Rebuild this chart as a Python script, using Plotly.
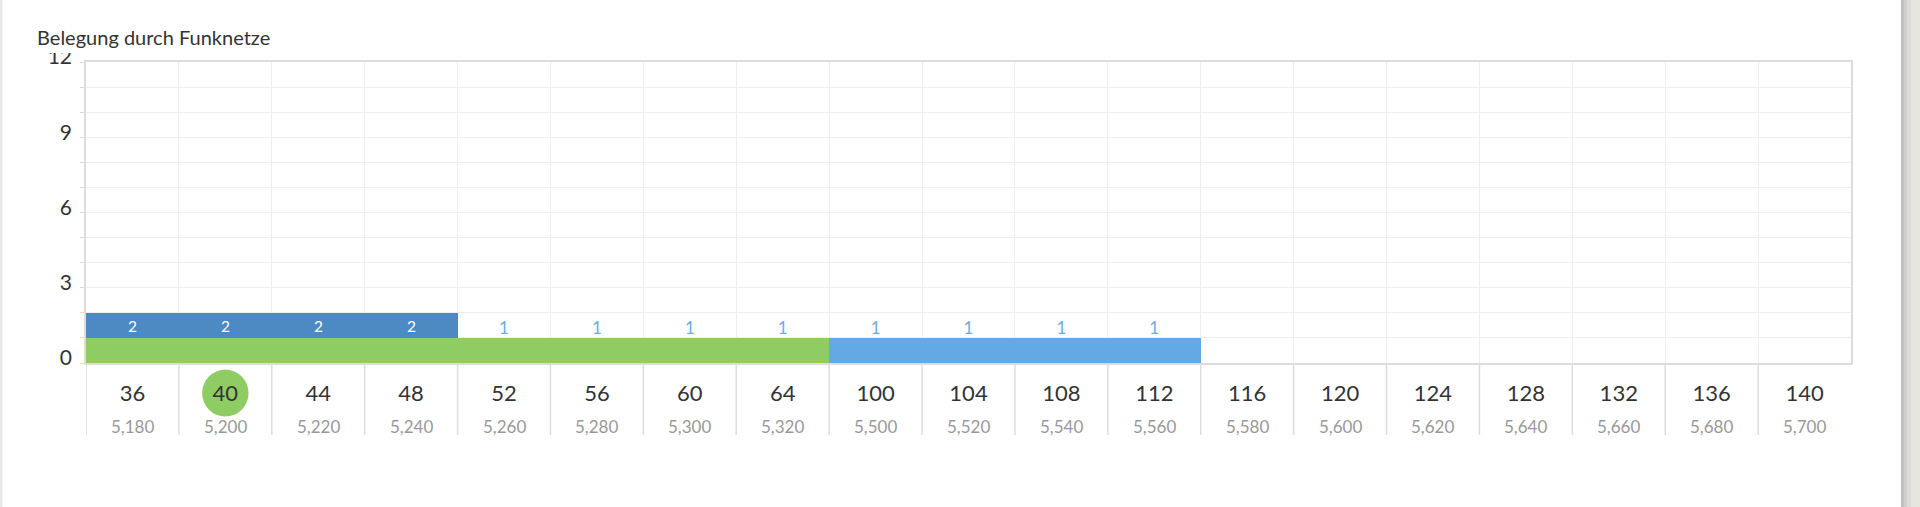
import plotly.graph_objects as go

# channels and their centre frequencies (MHz)
channels = ["36", "40", "44", "48", "52", "56", "60", "64", "100", "104",
            "108", "112", "116", "120", "124", "128", "132", "136", "140"]
frequencies = ["5,180", "5,200", "5,220", "5,240", "5,260", "5,280", "5,300",
               "5,320", "5,500", "5,520", "5,540", "5,560", "5,580", "5,600",
               "5,620", "5,640", "5,660", "5,680", "5,700"]

# networks per channel
net_green = [1, 1, 1, 1, 1, 1, 1, 1, None, None, None, None,
             None, None, None, None, None, None, None]
net_lightblue = [None, None, None, None, None, None, None, None, 1, 1, 1, 1,
                 None, None, None, None, None, None, None]
net_darkblue = [1, 1, 1, 1, None, None, None, None, None, None, None, None,
                None, None, None, None, None, None, None]

current_channel = "40"

y_ticks = list(range(13))
y_labels = ["0", "", "", "3", "", "", "6", "", "", "9", "", "", "12"]

FONT = "Lato"
GREEN = "#8fcc63"
LIGHTBLUE = "#63a9e3"
DARKBLUE = "#4d89c3"

totals = [sum(v or 0 for v in vals) for vals in zip(net_green, net_lightblue, net_darkblue)]
top_labels = [(c, t) for c, t, d in zip(channels, totals, net_darkblue) if t and not d]

fig = go.Figure()
fig.add_trace(go.Bar(x=channels, y=net_green, marker=dict(color=GREEN, line_width=0)))
fig.add_trace(go.Bar(x=channels, y=net_lightblue, marker=dict(color=LIGHTBLUE, line_width=0)))
fig.add_trace(go.Bar(
    x=channels, y=net_darkblue,
    marker=dict(color=DARKBLUE, line_width=0),
    text=[str(t) if d else None for t, d in zip(totals, net_darkblue)],
    textposition="inside", insidetextanchor="middle", textangle=0,
    textfont=dict(family=FONT, size=18, color="white"),
))
fig.add_trace(go.Scatter(
    x=[c for c, t in top_labels], y=[t for c, t in top_labels],
    text=[str(t) for c, t in top_labels],
    mode="text", textposition="top center",
    textfont=dict(family=FONT, size=17, color="#6aaee8"),
    cliponaxis=False,
))

shapes = []
# separators below the axis
for i in range(len(channels)):
    shapes.append(dict(type="line", xref="x", yref="paper", x0=i - 0.5, x1=i - 0.5,
                       y0=0, y1=-0.239, line=dict(color="#dddddd", width=1.5)))
# highlight of the current channel
ci = channels.index(current_channel)
shapes.append(dict(type="circle", xref="x", yref="paper", layer="below",
                   x0=ci - 0.25, x1=ci + 0.25, y0=-0.178, y1=-0.022,
                   fillcolor=GREEN, line_width=0))
# the title box clips the top of the "12"
shapes.append(dict(type="rect", xref="paper", yref="paper", layer="above",
                   x0=-0.045, x1=-0.004, y0=1.030, y1=1.08,
                   fillcolor="white", line_width=0))
# page edges (scrollbar shadow on the right, border on the left)
edge = [(1.0283, 1.0300, "#bfbfbb"), (1.0300, 1.0317, "#cfceca"),
        (1.0317, 1.0340, "#dcdad6"), (1.0340, 1.06, "#e7e5e0")]
for x0, x1, col in edge:
    shapes.append(dict(type="rect", xref="paper", yref="paper", layer="above",
                       x0=x0, x1=x1, y0=-0.6, y1=1.3, fillcolor=col, line_width=0))
shapes.append(dict(type="rect", xref="paper", yref="paper", layer="above",
                   x0=-0.06, x1=-0.0474, y0=-0.6, y1=1.3,
                   fillcolor="#e6e6e6", line_width=0))

# frequency row under the channel numbers (x = category index)
annotations = [dict(x=i, y=-0.2126, xref="x", yref="paper", text=f,
                    showarrow=False, yanchor="middle",
                    font=dict(family=FONT, size=17, color="#999999"))
               for i, f in enumerate(frequencies)]

fig.update_layout(
    width=1920, height=507,
    margin=dict(l=86, r=69, t=62, b=144),
    paper_bgcolor="white", plot_bgcolor="white",
    barmode="stack", bargap=0,
    showlegend=False,
    font=dict(family=FONT, color="#333333"),
    title=dict(text="Belegung durch Funknetze", xref="container", yref="container",
               x=0.0193, y=0.925, xanchor="left", yanchor="middle",
               font=dict(family=FONT, size=20, color="#333333")),
    shapes=shapes,
    annotations=annotations,
)
fig.update_xaxes(
    type="category", categoryorder="array", categoryarray=channels,
    range=[-0.5, len(channels) - 0.5],
    tickson="boundaries", showgrid=True, gridcolor="#eeeeee",
    tickvals=channels, ticktext=channels, tickangle=0,
    tickfont=dict(family=FONT, size=22, color="#333333"),
    ticks="", ticklabelstandoff=10,
    showline=True, linecolor="#dddddd", linewidth=1.5, mirror=True,
)
fig.update_yaxes(
    range=[0, 12], tickvals=y_ticks, ticktext=y_labels,
    showgrid=True, gridcolor="#eeeeee",
    ticks="outside", ticklen=4, tickcolor="#dddddd",
    tickfont=dict(family=FONT, size=21, color="#333333"),
    ticklabelshift=-5, ticklabelstandoff=4,
    showline=True, linecolor="#dddddd", linewidth=1.5, mirror=True,
    zeroline=False,
)

fig.write_html("out.html", config={"displayModeBar": False},
               post_script="document.body.style.margin = '0px';")
